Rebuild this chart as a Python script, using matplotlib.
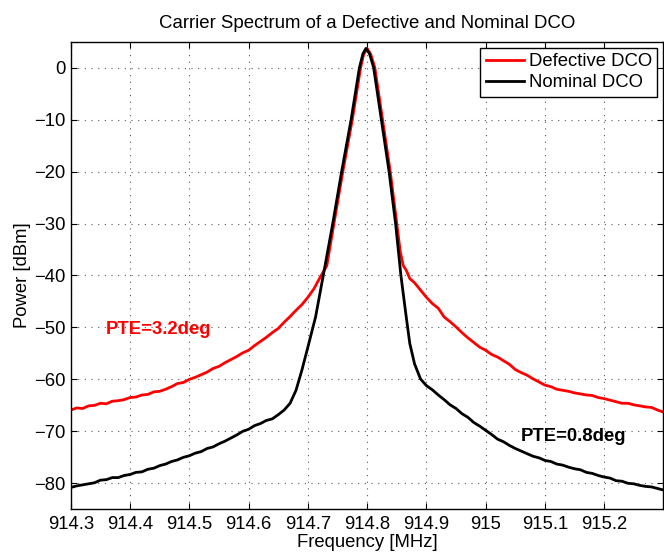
import matplotlib
matplotlib.use("Agg")
import matplotlib.pyplot as plt

plt.rcParams['font.family'] = ['Liberation Sans', 'DejaVu Sans']
plt.rcParams['font.size'] = 13.3

# spectrum of the defective DCO (red)
red_freq = [914.30, 914.31, 914.32, 914.33, 914.34, 914.35, 914.36, 914.37, 914.38, 914.39,
            914.40, 914.41, 914.42, 914.43, 914.44, 914.45, 914.46, 914.47, 914.48, 914.49,
            914.50, 914.51, 914.52, 914.53, 914.54, 914.55, 914.56, 914.57, 914.58, 914.59,
            914.60, 914.61, 914.62, 914.63, 914.64, 914.65, 914.66, 914.67, 914.68, 914.69,
            914.70, 914.71, 914.72, 914.732, 914.744, 914.759, 914.775, 914.789, 914.794,
            914.800, 914.806, 914.813, 914.826, 914.839, 914.850, 914.856, 914.861, 914.866,
            914.872, 914.88, 914.89, 914.90, 914.91, 914.92, 914.93, 914.94, 914.95, 914.96,
            914.97, 914.98, 914.99, 915.00, 915.01, 915.02, 915.03, 915.04, 915.05, 915.06,
            915.07, 915.08, 915.09, 915.10, 915.11, 915.12, 915.13, 915.14, 915.15, 915.16,
            915.17, 915.18, 915.19, 915.20, 915.21, 915.22, 915.23, 915.24, 915.25, 915.26,
            915.27, 915.28, 915.29, 915.30]
red_power = [-65.9, -65.5, -65.6, -65.1, -65.0, -64.6, -64.7, -64.2, -64.1, -63.9,
             -63.5, -63.4, -63.0, -62.9, -62.4, -62.3, -61.9, -61.4, -60.8, -60.6,
             -60.0, -59.6, -59.1, -58.6, -57.9, -57.5, -56.8, -56.2, -55.6, -54.9,
             -54.4, -53.5, -52.7, -51.9, -51.0, -50.2, -49.0, -47.9, -46.7, -45.6,
             -44.2, -42.6, -40.5, -38.1, -30.0, -20.0, -10.0, 0.0, 2.5,
             3.7, 2.6, 0.0, -10.0, -20.0, -30.0, -35.5, -38.1, -39.0,
             -40.6, -41.4, -42.8, -44.2, -45.4, -46.3, -48.0, -48.9, -49.9, -51.0,
             -52.0, -52.9, -53.8, -54.4, -55.2, -55.7, -56.4, -57.1, -58.1, -58.7,
             -59.2, -59.9, -60.5, -61.1, -61.4, -61.9, -62.1, -62.3, -62.6, -62.8,
             -63.0, -63.1, -63.5, -63.7, -64.0, -64.3, -64.6, -64.6, -64.9, -65.1,
             -65.3, -65.4, -65.9, -66.3]

# spectrum of the nominal DCO (black)
black_freq = [914.30, 914.31, 914.32, 914.33, 914.34, 914.35, 914.36, 914.37, 914.38, 914.39,
              914.40, 914.41, 914.42, 914.43, 914.44, 914.45, 914.46, 914.47, 914.48, 914.49,
              914.50, 914.51, 914.52, 914.53, 914.54, 914.55, 914.56, 914.57, 914.58, 914.59,
              914.60, 914.61, 914.62, 914.63, 914.64, 914.65, 914.66, 914.67, 914.68, 914.69,
              914.70, 914.713, 914.726, 914.742, 914.757, 914.773, 914.787, 914.793, 914.798,
              914.804, 914.811, 914.824, 914.837, 914.848, 914.857, 914.866, 914.872, 914.880,
              914.89, 914.90, 914.91, 914.92, 914.93, 914.94, 914.95, 914.96, 914.97, 914.98,
              914.99, 915.00, 915.01, 915.02, 915.03, 915.04, 915.05, 915.06, 915.07, 915.08,
              915.09, 915.10, 915.11, 915.12, 915.13, 915.14, 915.15, 915.16, 915.17, 915.18,
              915.19, 915.20, 915.21, 915.22, 915.23, 915.24, 915.25, 915.26, 915.27, 915.28,
              915.29, 915.30]
black_power = [-80.8, -80.5, -80.3, -80.1, -79.9, -79.4, -79.3, -78.9, -78.9, -78.5,
               -78.3, -77.9, -77.8, -77.3, -77.1, -76.6, -76.3, -75.8, -75.5, -75.0,
               -74.7, -74.2, -73.9, -73.3, -73.0, -72.4, -71.9, -71.3, -70.7, -70.0,
               -69.6, -68.9, -68.5, -67.9, -67.6, -66.8, -65.9, -64.6, -62.1, -58.2,
               -53.8, -48.0, -40.0, -30.0, -20.0, -10.0, 0.0, 2.7, 3.7,
               2.7, 0.0, -10.0, -20.0, -30.0, -40.0, -48.0, -53.1, -57.0,
               -59.9, -61.2, -62.0, -63.0, -63.9, -64.9, -65.6, -66.6, -67.3, -68.3,
               -69.0, -69.8, -70.6, -71.5, -72.0, -72.7, -73.3, -73.8, -74.3, -74.8,
               -75.1, -75.6, -75.8, -76.3, -76.5, -76.9, -77.2, -77.4, -77.9, -78.1,
               -78.5, -78.8, -79.0, -79.5, -79.6, -80.0, -80.1, -80.4, -80.6, -80.7,
               -81.0, -81.3]

x_ticks = [914.3, 914.4, 914.5, 914.6, 914.7, 914.8, 914.9, 915.0, 915.1, 915.2]
x_tick_labels = ['914.3', '914.4', '914.5', '914.6', '914.7', '914.8', '914.9', '915', '915.1', '915.2']
y_ticks = [-80, -70, -60, -50, -40, -30, -20, -10, 0]

fig = plt.figure(figsize=(6.64, 5.52), dpi=100)
ax = fig.add_axes([0.1066, 0.0774, 0.8926, 0.8471])

ax.plot(red_freq, red_power, color='red', linewidth=2.0, label='Defective DCO')
ax.plot(black_freq, black_power, color='black', linewidth=2.0, label='Nominal DCO')

ax.set_xlim(914.3, 915.3)
ax.set_ylim(-85, 5)
ax.set_xticks(x_ticks)
ax.set_xticklabels(x_tick_labels)
ax.set_yticks(y_ticks)

# matlab look: inward ticks on every side, dotted grid
ax.tick_params(direction='in', length=4.3, width=0.8, top=True, right=True, pad=4)
ax.tick_params(axis='x', pad=5)
ax.grid(True, color='0.35', linestyle=(0, (1, 5)), linewidth=0.8)
for s in ax.spines.values():
    s.set_linewidth(1.0)

ax.set_title('Carrier Spectrum of a Defective and Nominal DCO', fontsize=13.45, pad=9.5)
ax.set_xlabel('Frequency [MHz]', labelpad=0.5)
ax.set_ylabel('Power [dBm]')
ax.yaxis.set_label_coords((31 - 70.8) / 592.7, 0.5)

ax.text(914.359, -50.4, 'PTE=3.2deg', color='red', fontweight='bold', va='center')
ax.text(915.060, -70.9, 'PTE=0.8deg', color='black', fontweight='bold', va='center')

leg = ax.legend(loc='upper right', fancybox=False, framealpha=1, edgecolor='black',
                borderaxespad=0.33, borderpad=0.3, handlelength=2.06,
                handletextpad=0.25, labelspacing=0.2)
leg.get_frame().set_linewidth(1.0)

fig.savefig('out.png', dpi=100)
